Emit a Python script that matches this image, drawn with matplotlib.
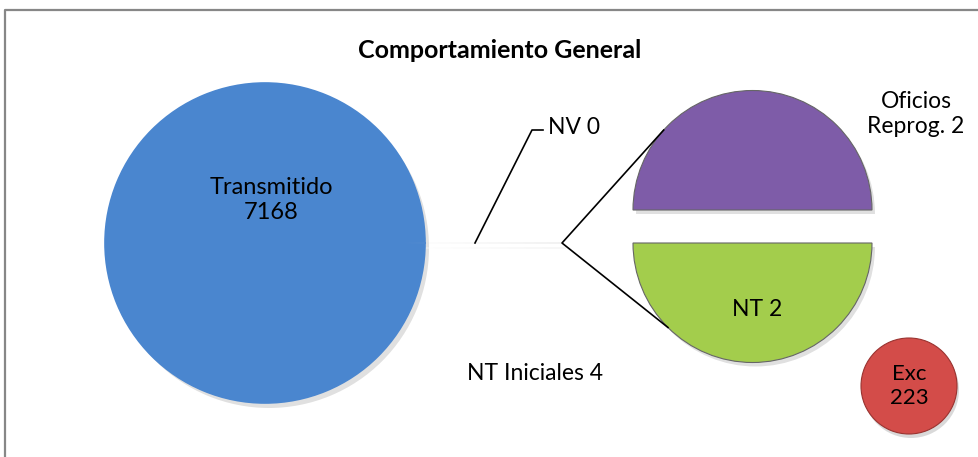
import numpy as np
import matplotlib
matplotlib.use('Agg')
import matplotlib.pyplot as plt

# datos del grafico "Comportamiento General"
main_labels = ['Transmitido', 'NV', 'NT Iniciales']
main_values = [7168, 0, 4]
sec_labels = ['Oficios\nReprog.', 'NT']
sec_values = [2, 2]
exc_labels = ['Exc']
exc_values = [223]

main_colors = ['#4A86CF', '#FFFFFF', '#D0D0D0']
sec_colors = ['#7E5CA8', '#A3CD4C']
exc_colors = ['#D34C49']

W, H = 979, 457
plt.rcParams['font.family'] = ['Lato', 'DejaVu Sans']

fig = plt.figure(figsize=(W / 100, H / 100), dpi=100)
ax = fig.add_axes([0, 0, 1, 1])


def py(y):
    # pixel (desde arriba) -> coordenada de datos
    return H - y


# pie principal (explode en unidades de datos)
main_c = (265, py(243))
main_r = 160
other_expl = 137
half = main_values[2] / sum(main_values) * 360 / 2
ax.pie(main_values, center=(main_c[0] + 4, main_c[1] - 5), radius=main_r,
       colors=['#000000'] * 3, explode=[0, 0, other_expl], startangle=half,
       wedgeprops=dict(linewidth=0, alpha=0.12))
wedges, _ = ax.pie(main_values, center=main_c, radius=main_r, colors=main_colors,
                   explode=[0, 0, other_expl], startangle=half,
                   wedgeprops=dict(linewidth=0))
# tapar la ranura que deja la porcion separada
wedges[0].set_edgecolor(main_colors[0])
wedges[0].set_linewidth(1.2)

# pie secundario
sec_c = (752.5, py(226.5))
sec_r = 119.5
sec_expl = 16.5
ax.pie(sec_values, center=(sec_c[0] + 3, sec_c[1] - 4), radius=sec_r,
       colors=['#000000'] * 2, explode=[sec_expl] * 2, startangle=0,
       wedgeprops=dict(linewidth=0, alpha=0.12))
ax.pie(sec_values, center=sec_c, radius=sec_r, colors=sec_colors,
       explode=[sec_expl] * 2, startangle=0,
       wedgeprops=dict(linewidth=0.8, edgecolor='#666666'))

# Exc
exc_c = (909, py(386))
exc_r = 48
ax.pie(exc_values, center=(exc_c[0] + 2, exc_c[1] - 4), radius=exc_r,
       colors=['#000000'], wedgeprops=dict(linewidth=0, alpha=0.15))
ax.pie(exc_values, center=exc_c, radius=exc_r, colors=exc_colors,
       wedgeprops=dict(linewidth=0.8, edgecolor='#9A3330'))

# lineas de conexion
tip = np.array([main_c[0] + main_r + other_expl, main_c[1]])
top_c = np.array([sec_c[0], sec_c[1] + sec_expl])
bot_c = np.array([sec_c[0], sec_c[1] - sec_expl])
a1, a2 = np.radians(138), np.radians(-135)
p1 = top_c + sec_r * np.array([np.cos(a1), np.sin(a1)])
p2 = bot_c + sec_r * np.array([np.cos(a2), np.sin(a2)])
ax.plot([p1[0], tip[0], p2[0]], [p1[1], tip[1], p2[1]], color='black', lw=1.2)

# etiquetas
fs = 16.5
ax.text(271, py(200), f'{main_labels[0]}\n{main_values[0]}', ha='center',
        va='center', fontsize=17, linespacing=1.25)
ax.plot([475, 532, 543], [py(243), py(130), py(130)], color='black', lw=1.2)
ax.text(548, py(127), f'{main_labels[1]} {main_values[1]}', ha='left',
        va='center', fontsize=fs)
ax.text(535, py(373), f'{main_labels[2]} {main_values[2]}', ha='center',
        va='center', fontsize=fs)
ax.text(916, py(114), f'{sec_labels[0]} {sec_values[0]}', ha='center',
        va='center', fontsize=fs, linespacing=1.25)
ax.text(757, py(310), f'{sec_labels[1]} {sec_values[1]}', ha='center',
        va='center', fontsize=fs)
ax.text(exc_c[0], py(386), f'{exc_labels[0]}\n{exc_values[0]}', ha='center',
        va='center', fontsize=16, linespacing=1.2)

ax.text(500, py(50), 'Comportamiento General', ha='center', va='center',
        fontsize=18, fontweight='bold')

# marco
ax.plot([5, 5, 990], [py(470), py(10), py(10)], color='#878787', lw=1.6)

ax.set_xlim(0, W)
ax.set_ylim(0, H)
ax.set_aspect('equal')
ax.axis('off')

fig.savefig('out.png', dpi=100)
